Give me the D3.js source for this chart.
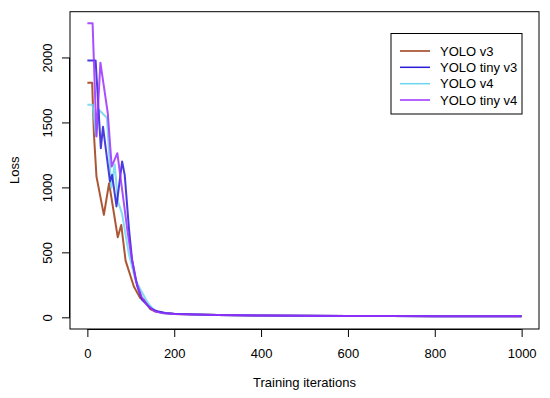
<!DOCTYPE html>
<html>
<head>
<meta charset="utf-8">
<script src="https://cdn.jsdelivr.net/npm/d3@7"></script>
<style>
  html, body { margin: 0; padding: 0; background: #fff; }
  text { font-family: "Liberation Sans", Arial, Helvetica, sans-serif; }
</style>
</head>
<body>
<svg id="chart" width="550" height="398"></svg>
<script>
// ---- data ----
const seriesNames = ["YOLO v3", "YOLO tiny v3", "YOLO v4", "YOLO tiny v4"];
const seriesColors = ["#9c3a12", "#2a1bd6", "#6cd6f0", "#9b30ff"];

const v3Iter = [0, 11, 15, 21, 38, 50, 70, 78, 88, 107, 122, 130, 145, 157, 175, 200, 250, 300, 400, 500, 600, 700, 800, 900, 1000];
const v3Loss = [1810, 1810, 1420, 1087, 792, 1036, 620, 715, 440, 241, 151, 138, 67, 48, 38, 30, 25, 21, 18, 16, 15, 14, 13, 13, 12];

const tinyV3Iter = [0, 19, 31, 36, 52, 57, 67, 80, 86, 96, 103, 115, 126, 145, 161, 180, 200, 250, 300, 400, 500, 600, 700, 800, 900, 1000];
const tinyV3Loss = [1980, 1980, 1305, 1470, 1050, 1100, 857, 1203, 1100, 677, 446, 241, 138, 75, 50, 38, 31, 26, 22, 18, 16, 15, 14, 13, 13, 12];

const v4Iter = [0, 12, 20, 27, 45, 55, 63, 70, 80, 95, 110, 125, 140, 155, 170, 200, 250, 300, 400, 500, 600, 700, 800, 900, 1000];
const v4Loss = [1640, 1640, 1400, 1600, 1540, 1000, 1180, 900, 800, 500, 300, 200, 110, 55, 38, 30, 25, 21, 18, 16, 15, 14, 13, 13, 12];

const tinyV4Iter = [0, 12, 21, 30, 47, 56, 69, 84, 92, 100, 112, 125, 140, 155, 170, 200, 250, 300, 400, 500, 600, 700, 800, 900, 1000];
const tinyV4Loss = [2267, 2267, 1395, 1964, 1575, 1164, 1267, 885, 677, 500, 280, 160, 90, 50, 38, 30, 25, 21, 18, 16, 15, 14, 13, 13, 12];

const xTicks = [0, 200, 400, 600, 800, 1000];
const yTicks = [0, 500, 1000, 1500, 2000];
const xLabel = "Training iterations";
const yLabel = "Loss";

// ---- layout ----
const svg = d3.select("#chart");
const pLeft = 70, pRight = 539, pTop = 11.7, pBottom = 329;

const x = d3.scaleLinear().domain([-40, 1040]).range([pLeft, pRight]);
const y = d3.scaleLinear().domain([-86, 2356]).range([pBottom, pTop]);

const series = [
  { name: seriesNames[0], color: seriesColors[0], it: v3Iter, loss: v3Loss },
  { name: seriesNames[1], color: seriesColors[1], it: tinyV3Iter, loss: tinyV3Loss },
  { name: seriesNames[2], color: seriesColors[2], it: v4Iter, loss: v4Loss },
  { name: seriesNames[3], color: seriesColors[3], it: tinyV4Iter, loss: tinyV4Loss }
];

const line = d3.line().x(d => x(d[0])).y(d => y(d[1]));

// lines
const drawOrder = [0, 2, 1, 3];
drawOrder.forEach(i => {
  const s = series[i];
  const pts = s.it.map((v, j) => [v, s.loss[j]]);
  svg.append("path")
    .attr("d", line(pts))
    .attr("fill", "none")
    .attr("stroke", s.color)
    .attr("stroke-width", 2)
    .attr("stroke-opacity", 0.85)
    .attr("stroke-linejoin", "round");
});

// box
svg.append("rect")
  .attr("x", pLeft).attr("y", pTop)
  .attr("width", pRight - pLeft).attr("height", pBottom - pTop)
  .attr("fill", "none").attr("stroke", "#000").attr("stroke-width", 1);

// x axis
const xAxis = d3.axisBottom(x).tickValues(xTicks).tickSize(8).tickPadding(12).tickFormat(d3.format("d"));
const gx = svg.append("g").attr("transform", `translate(0,${pBottom})`).call(xAxis);
gx.select(".domain").attr("d", `M${x(0)},0.5H${x(1000)}`).attr("stroke", "#000");
gx.selectAll("text").attr("font-size", 13).attr("fill", "#000")
  .attr("font-family", "'Liberation Sans', Arial, sans-serif");

// y axis
const yAxis = d3.axisLeft(y).tickValues(yTicks).tickSize(8).tickPadding(0).tickFormat(d3.format("d"));
const gy = svg.append("g").attr("transform", `translate(${pLeft},0)`).call(yAxis);
gy.select(".domain").attr("d", `M-0.5,${y(0)}V${y(2000)}`).attr("stroke", "#000");
gy.selectAll(".tick").attr("transform", null);
gy.selectAll(".tick line").attr("y1", d => y(d)).attr("y2", d => y(d));
gy.selectAll("text")
  .attr("font-size", 13).attr("fill", "#000")
  .attr("font-family", "'Liberation Sans', Arial, sans-serif")
  .attr("transform", d => `translate(${-18},${y(d)}) rotate(-90)`)
  .attr("x", 0).attr("y", 0).attr("dy", 0)
  .attr("text-anchor", "middle");

// axis titles
svg.append("text").attr("x", (pLeft + pRight) / 2).attr("y", 387)
  .attr("text-anchor", "middle").attr("font-size", 13).text(xLabel);
svg.append("text")
  .attr("transform", `translate(19,${(pTop + pBottom) / 2}) rotate(-90)`)
  .attr("text-anchor", "middle").attr("font-size", 13).text(yLabel);

// legend
const lg = svg.append("g");
lg.append("rect").attr("x", 391).attr("y", 33.5).attr("width", 131).attr("height", 80.5)
  .attr("fill", "#fff").attr("stroke", "#000").attr("stroke-width", 1);
const rowY = [51, 67.3, 83.7, 100];
series.forEach((s, i) => {
  lg.append("line").attr("x1", 400).attr("x2", 430).attr("y1", rowY[i]).attr("y2", rowY[i])
    .attr("stroke", s.color).attr("stroke-width", 1.5);
  lg.append("text").attr("x", 440).attr("y", rowY[i]).attr("dy", "0.35em")
    .attr("font-size", 13).text(s.name);
});
</script>
</body>
</html>
